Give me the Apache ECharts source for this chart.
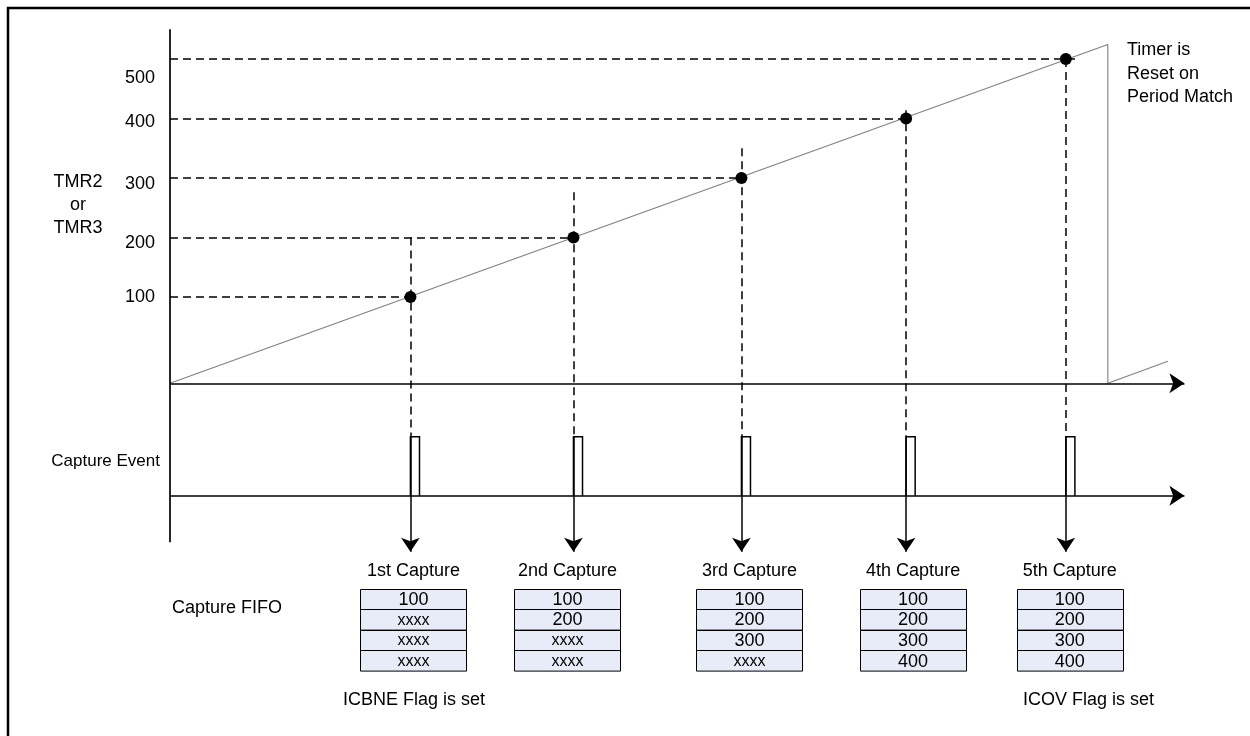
<!DOCTYPE html>
<html><head><meta charset="utf-8">
<script src="https://cdn.jsdelivr.net/npm/echarts@6/dist/echarts.min.js"></script>
<style>html,body{margin:0;padding:0;background:#fff}#c{width:1250px;height:736px}</style>
</head><body><div id="c"></div>
<script>
// ---------------- data ----------------
const captureLabels = ['1st Capture', '2nd Capture', '3rd Capture', '4th Capture', '5th Capture'];
const captureTime  = [146, 245, 347, 447, 544];   // time of each capture event
const captureValue = [100, 200, 300, 400, 500];   // TMR value latched at capture
const guideTop     = [200, 276, 350, 414, 500];   // top of each vertical dashed guide
const guideEnd     = [146, 245, 347, 447, 551];   // end of each horizontal dashed guide
const rampTime     = [0, 569.5, 569.5, 606];      // timer ramp, reset, restart
const rampValue    = [-45, 524.5, -45, -8];
const yTicks       = [100, 200, 300, 400, 500];
const fifoRows = [
  ['100', 'xxxx', 'xxxx', 'xxxx'],
  ['100', '200', 'xxxx', 'xxxx'],
  ['100', '200', '300', 'xxxx'],
  ['100', '200', '300', '400'],
  ['100', '200', '300', '400']
];
const timerAxisLevel = -45;    // level of the time axis under the ramp
const eventBase = -234;        // capture-event baseline
const eventHigh = -135;        // capture-event pulse high level
const pulseWidth = 5.5;
const axisEnd = 616;
const yAxisTop = 550, yAxisBottom = -312, arrowTip = -328;

// ---------------- layout ----------------
const FONT = '"Liberation Sans", Arial, sans-serif';
const FS = 18;
const tableShift = [3, -6, 8, 7, 4];
const tableW = 106, rowH = 20.6, tableTop = 588.5, tableLabelY = 571;
const labelPad = {100: 0, 200: 12, 300: 12, 400: 8, 500: 38};

const chart = echarts.init(document.getElementById('c'), null, {renderer: 'canvas'});

const rich = {};
yTicks.forEach(v => { rich['o' + v] = {fontSize: FS, fontFamily: FONT, color: '#000', padding: [labelPad[v], 0, 0, 0]}; });

const hGuides = captureValue.map((v, i) => ({coords: [[0, v], [guideEnd[i], v]]}));
const vGuides = captureTime.map((t, i) => ({coords: [[t, guideTop[i]], [t, eventHigh]]}));
const pulses = captureTime.map(t => ({coords: [[t, eventBase], [t, eventHigh], [t + pulseWidth, eventHigh], [t + pulseWidth, eventBase]]}));
const downArrows = captureTime.map(t => ({coords: [[t, eventHigh], [t, arrowTip]]}));

chart.setOption({
  animation: false,
  backgroundColor: '#fff',
  grid: {left: 170, right: 59, top: 29.25, bottom: 141.5, outerBoundsMode: 'none', containLabel: false},
  xAxis: {type: 'value', min: 0, max: 620, show: false},
  yAxis: {
    type: 'value', min: -400, max: 550, interval: 100,
    axisLine: {show: false}, axisTick: {show: false}, splitLine: {show: false},
    axisLabel: {
      margin: 15, fontSize: FS, fontFamily: FONT, color: '#000', showMaxLabel: false,
      formatter: v => yTicks.includes(v) ? '{o' + v + '|' + v + '}' : '',
      rich: rich
    }
  },
  series: [
    {type: 'line', data: rampTime.map((t, i) => [t, rampValue[i]]), showSymbol: false,
     lineStyle: {color: '#808080', width: 1.1}, z: 2, silent: true},
    {type: 'lines', coordinateSystem: 'cartesian2d', data: hGuides.concat(vGuides),
     lineStyle: {color: '#000', width: 1.5, type: [8, 5], opacity: 1}, z: 3, silent: true},
    {type: 'lines', coordinateSystem: 'cartesian2d',
     data: [{coords: [[0, timerAxisLevel], [axisEnd, timerAxisLevel]]}, {coords: [[0, eventBase], [axisEnd, eventBase]]}],
     symbol: ['none', 'arrow'], symbolSize: [11, 15],
     lineStyle: {color: '#000', width: 1.7, opacity: 1}, itemStyle: {color: '#000'}, z: 4, silent: true},
    {type: 'lines', coordinateSystem: 'cartesian2d',
     data: [{coords: [[0, yAxisTop], [0, yAxisBottom]]}],
     lineStyle: {color: '#000', width: 1.7, opacity: 1}, z: 4, silent: true},
    {type: 'lines', coordinateSystem: 'cartesian2d', polyline: true, data: pulses,
     lineStyle: {color: '#000', width: 1.5, opacity: 1}, z: 4, silent: true},
    {type: 'lines', coordinateSystem: 'cartesian2d', data: downArrows,
     symbol: ['none', 'arrow'], symbolSize: [10, 14],
     lineStyle: {color: '#000', width: 1.5, opacity: 1}, itemStyle: {color: '#000'}, z: 4, silent: true},
    {type: 'scatter', data: captureTime.map((t, i) => [t, captureValue[i]]), symbolSize: 12,
     itemStyle: {color: '#000', opacity: 1}, z: 6, silent: true}
  ]
});

function txt(text, x, y, align, size) {
  return {type: 'text', x: x, y: y, silent: true,
    style: {text: text, fontSize: size || FS, fontFamily: FONT, fill: '#000', align: align || 'left', verticalAlign: 'middle'}};
}

const graphics = [];
graphics.push({type: 'rect', shape: {x: 8, y: 8, width: 1270, height: 760}, style: {fill: 'none', stroke: '#000', lineWidth: 2.5}, silent: true});
graphics.push(txt('TMR2', 78, 182, 'center'));
graphics.push(txt('or', 78, 205, 'center'));
graphics.push(txt('TMR3', 78, 228, 'center'));
graphics.push(txt('Timer is', 1127, 50));
graphics.push(txt('Reset on', 1127, 74));
graphics.push(txt('Period Match', 1127, 97));
graphics.push(txt('Capture Event', 160, 461, 'right', 17));
graphics.push(txt('Capture FIFO', 172, 608));
graphics.push(txt('ICBNE Flag is set', 343, 700));
graphics.push(txt('ICOV Flag is set', 1023, 700));

captureTime.forEach((t, i) => {
  const cx = chart.convertToPixel({gridIndex: 0}, [t, 0])[0] + tableShift[i];
  graphics.push(txt(captureLabels[i], cx, tableLabelY, 'center'));
  fifoRows[i].forEach((cell, r) => {
    const y = tableTop + r * rowH;
    graphics.push({type: 'rect', silent: true, shape: {x: Math.round(cx - tableW / 2) + 0.5, y: Math.round(y) + 0.5, width: tableW, height: rowH},
      style: {fill: '#e8ecf8', stroke: '#000', lineWidth: 1}});
    graphics.push(txt(cell, cx, y + rowH / 2 + 1, 'center', cell === 'xxxx' ? 16 : FS));
  });
});

chart.setOption({graphic: graphics});
</script>
</body></html>
